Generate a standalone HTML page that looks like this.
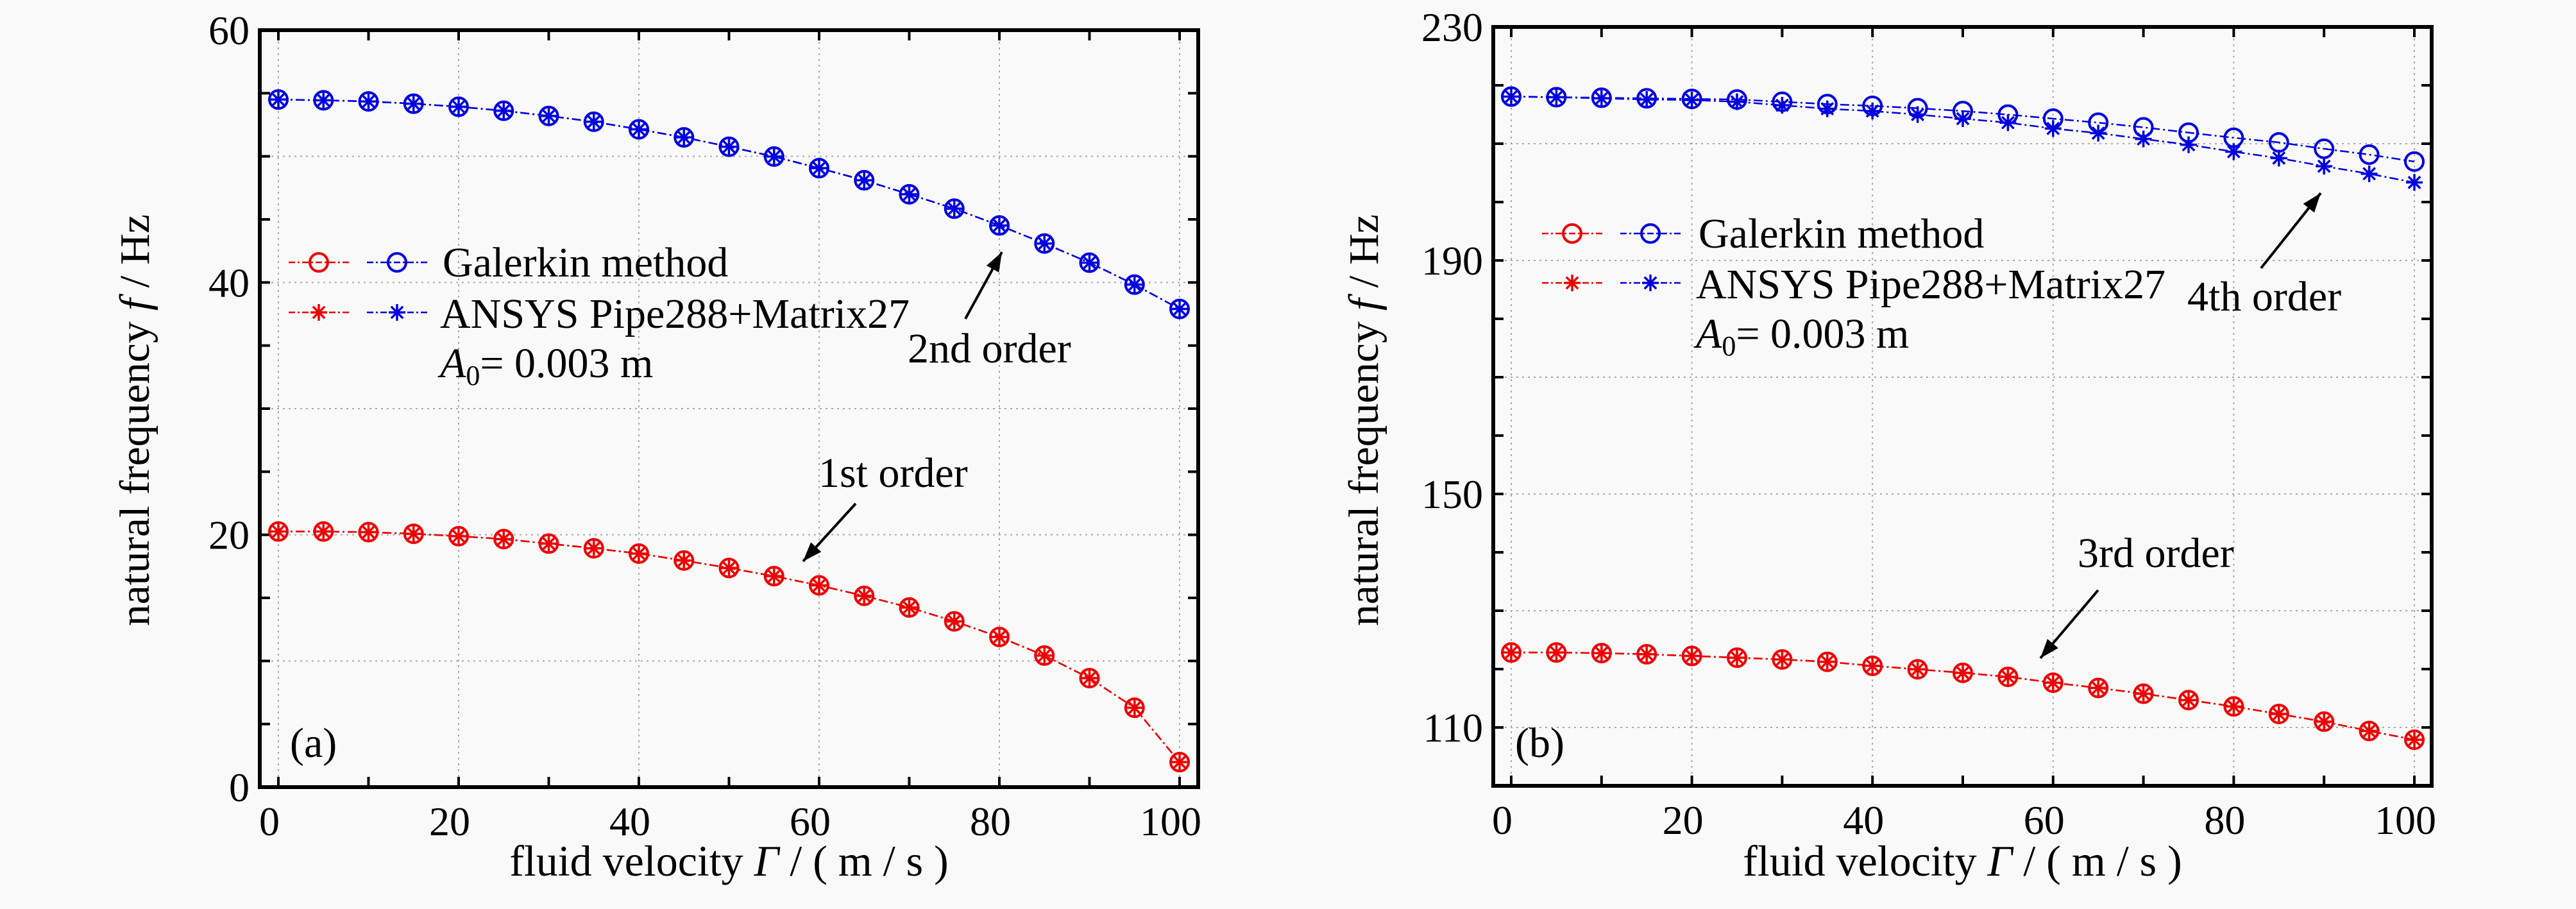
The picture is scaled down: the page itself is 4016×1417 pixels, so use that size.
<!DOCTYPE html>
<html><head><meta charset="utf-8"><style>
html,body{margin:0;padding:0;background:#f9f9f9}
svg{display:block;font-family:"Liberation Serif","DejaVu Serif",serif}
svg text{font-family:"Liberation Serif","DejaVu Serif",serif;fill:#000}
</style></head><body>
<svg id="s" width="4016" height="1417" xmlns="http://www.w3.org/2000/svg" font-family="Liberation Serif, DejaVu Serif, serif">
<rect width="4016" height="1417" fill="#f9f9f9"/>
</svg>
<script>
const S=document.getElementById('s');const NS='http://www.w3.org/2000/svg';
function el(t,a,txt){const e=document.createElementNS(NS,t);for(const k in a)e.setAttribute(k,a[k]);if(t==='text')e.setAttribute('font-family','Liberation Serif, DejaVu Serif, serif');if(txt!==undefined)e.textContent=txt;S.appendChild(e);return e;}
function star(x,y,c,r){let d='';for(let i=0;i<4;i++){const a=i*Math.PI/4;d+=`M${x-r*Math.cos(a)},${y-r*Math.sin(a)}L${x+r*Math.cos(a)},${y+r*Math.sin(a)}`;}el('path',{d:d,stroke:c,'stroke-width':3.5,fill:'none'});}
function circ(x,y,c){el('circle',{cx:x,cy:y,r:14,fill:'none',stroke:c,'stroke-width':4});}
function arrow(x1,y1,x2,y2){el('line',{x1:x1,y1:y1,x2:x2,y2:y2,stroke:'#000','stroke-width':4});const a=Math.atan2(y2-y1,x2-x1),L=30,w=11;
el('polygon',{points:`${x2},${y2} ${x2-L*Math.cos(a)+w*Math.sin(a)},${y2-L*Math.sin(a)-w*Math.cos(a)} ${x2-L*Math.cos(a)-w*Math.sin(a)},${y2-L*Math.sin(a)+w*Math.cos(a)}`,fill:'#000'});}
function panel(P){
 const X=v=>P.x0+(v/100)*(P.x100-P.x0), Y=v=>P.bot-(v-P.ymin)/(P.ymax-P.ymin)*(P.bot-P.top);
 for(const g of P.gy) el('line',{x1:P.l,x2:P.r,y1:Y(g),y2:Y(g),stroke:'#aaa','stroke-width':2,'stroke-dasharray':'3,6'});
 for(let v=0;v<=100;v+=20) el('line',{x1:X(v),x2:X(v),y1:P.top,y2:P.bot,stroke:'#aaa','stroke-width':2,'stroke-dasharray':'3,6'});
 for(let v=P.ymin;v<=P.ymax+1e-9;v+=P.minor){const y=Y(v);el('line',{x1:P.l,x2:P.l+16,y1:y,y2:y,stroke:'#000','stroke-width':4});el('line',{x1:P.r,x2:P.r-16,y1:y,y2:y,stroke:'#000','stroke-width':4});}
 for(let v=0;v<=100;v+=10){const x=X(v);el('line',{x1:x,x2:x,y1:P.bot,y2:P.bot-16,stroke:'#000','stroke-width':4});el('line',{x1:x,x2:x,y1:P.top,y2:P.top+16,stroke:'#000','stroke-width':4});}
 el('rect',{x:P.l,y:P.top,width:P.r-P.l,height:P.bot-P.top,fill:'none',stroke:'#000','stroke-width':6});
 for(const v of P.labs) el('text',{x:P.l-16,y:Y(v)+22,'font-size':64,'text-anchor':'end'},String(v));
 for(let v=0;v<=100;v+=20) el('text',{x:X(v)-14,y:P.bot+75,'font-size':64,'text-anchor':'middle'},String(v));
 for(const s of P.series){
  const pts=s.d.map((v,i)=>[X(i*5),Y(v)]);
  el('polyline',{points:pts.map(p=>p.join(',')).join(' '),fill:'none',stroke:s.c,'stroke-width':2.5,'stroke-dasharray':'14,5,3,5'});
  pts.forEach(p=>s.m=='o'?circ(p[0],p[1],s.c):star(p[0],p[1],s.c,13));
 }
 el('text',{x:(P.l+P.r)/2,y:1365,'font-size':68,'text-anchor':'middle'}).innerHTML='fluid velocity <tspan font-style="italic">Γ</tspan> / ( m / s )';
 const yl=el('text',{x:0,y:0,'font-size':66,'text-anchor':'middle',transform:`translate(${P.ylx},655) rotate(-90)`,textLength:642,lengthAdjust:'spacingAndGlyphs'});
 yl.innerHTML='natural  frequency <tspan font-style="italic">f</tspan> / Hz';
 const L=P.leg;
 [[L.y1,'o'],[L.y2,'*']].forEach(([y,m])=>{
  [['#e00',L.x],['#0000e0',L.x+122]].forEach(([c,x])=>{el('line',{x1:x,x2:x+95,y1:y,y2:y,stroke:c,'stroke-width':2.5,'stroke-dasharray':'10,4,3,4'});m=='o'?circ(x+47,y,c):star(x+47,y,c,13);});
 });
 el('text',{x:L.tx,y:L.y1+22,'font-size':66},'Galerkin method');
 el('text',{x:L.tx-4,y:L.y2+24,'font-size':66,'xml:space':'preserve'},P.ansys);
 el('text',{x:L.tx-4,y:L.y3,'font-size':66}).innerHTML='<tspan font-style="italic">A</tspan><tspan font-size="44" dy="12">0</tspan><tspan dy="-12">= 0.003 m</tspan>';
 for(const t of P.ann) el('text',{x:t[0],y:t[1],'font-size':66},t[2]);
 for(const a of P.arr) arrow(...a);
}
panel({l:405,r:1868,top:47,bot:1227,x0:434,x100:1839,ymin:0,ymax:60,minor:5,gy:[10,20,30,40,50],labs:[0,20,40,60],ylx:232,
 series:[
 {c:'#0000e0',m:'o',d:[54.5,54.44,54.35,54.17,53.93,53.61,53.2,52.74,52.14,51.5,50.76,49.98,49.06,48.1,46.99,45.85,44.52,43.09,41.57,39.83,37.9]},
 {c:'#0000e0',m:'*',d:[54.5,54.44,54.35,54.17,53.93,53.61,53.2,52.74,52.14,51.5,50.76,49.98,49.06,48.1,46.99,45.85,44.52,43.09,41.57,39.83,37.9]},
 {c:'#e00',m:'o',d:[20.26,20.26,20.21,20.08,19.89,19.66,19.3,18.93,18.51,17.96,17.37,16.72,15.99,15.16,14.24,13.14,11.9,10.43,8.64,6.29,1.98]},
 {c:'#e00',m:'*',d:[20.26,20.26,20.21,20.08,19.89,19.66,19.3,18.93,18.51,17.96,17.37,16.72,15.99,15.16,14.24,13.14,11.9,10.43,8.64,6.29,1.98]}],
 leg:{x:450,y1:409,y2:487,y3:588,tx:690},ansys:'ANSYS Pipe288+Matrix27',
 ann:[[1415,565,'2nd order'],[1276,759,'1st order'],[452,1180,'(a)']],
 arr:[[1505,497,1562,393],[1334,785,1252,875]]});
panel({l:2328,r:3791,top:42,bot:1225,x0:2356,x100:3764,ymin:100,ymax:230,minor:10,gy:[110,130,150,170,190,210],labs:[110,150,190,230],ylx:2148,
 series:[
 {c:'#0000e0',m:'o',d:[218.07,217.97,217.87,217.77,217.67,217.57,217.18,216.78,216.48,216.08,215.59,214.99,214.29,213.6,212.8,211.9,211.01,210.22,209.13,208.13,206.94]},
 {c:'#0000e0',m:'*',d:[218.07,217.97,217.77,217.57,217.48,217.18,216.58,215.98,215.59,214.99,214.29,213.6,212.6,211.81,210.81,209.82,208.63,207.53,206.14,204.85,203.36]},
 {c:'#e00',m:'o',d:[122.84,122.84,122.74,122.54,122.25,121.95,121.65,121.25,120.56,119.96,119.36,118.67,117.67,116.77,115.78,114.69,113.6,112.31,111.0,109.4,107.9]},
 {c:'#e00',m:'*',d:[122.84,122.84,122.74,122.54,122.25,121.95,121.65,121.25,120.56,119.96,119.36,118.67,117.67,116.77,115.78,114.69,113.6,112.31,111.0,109.4,107.9]}],
 leg:{x:2404,y1:364,y2:441,y3:542,tx:2648},ansys:'ANSYS  Pipe288+Matrix27',
 ann:[[3410,484,'4th order'],[3239,884,'3rd order'],[2362,1180,'(b)']],
 arr:[[3525,418,3618,301],[3271,920,3181,1026]]});
</script>
</body></html>
